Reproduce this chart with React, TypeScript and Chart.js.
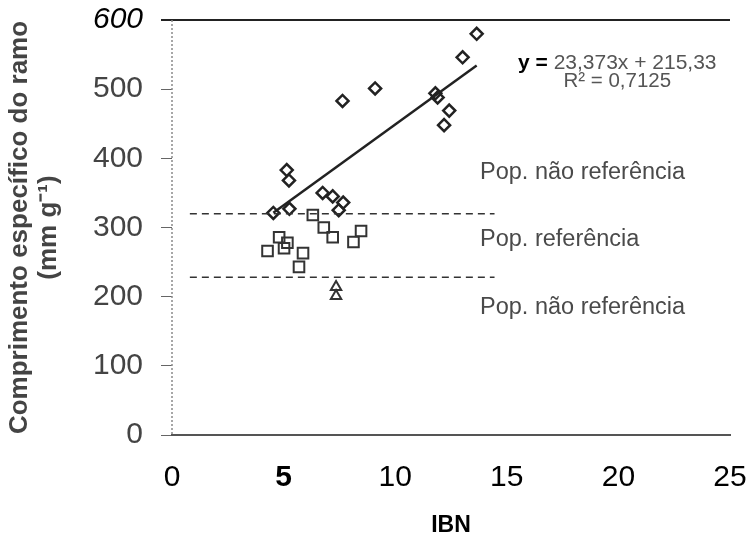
import React, { useEffect, useRef } from "react";
import { Chart, registerables } from "chart.js";

Chart.register(...registerables);

// ---- data ----
const diamondX = [4.54, 5.14, 5.24, 5.26, 6.75, 7.2, 7.67, 7.47, 7.64, 9.1, 11.8, 11.9, 12.42, 12.19, 13.02, 13.65];
const diamondY = [321, 383, 368, 327, 350, 345, 336, 325, 483, 501, 494, 488, 469, 448, 546, 580];

const squareX = [6.31, 6.8, 7.2, 8.47, 8.13, 4.8, 5.17, 5.02, 4.28, 5.87, 5.69];
const squareY = [318, 300, 286, 295, 279, 286, 278, 270, 266, 263, 243];

const triangleX = [7.35, 7.35];
const triangleY = [214, 201];

const fitSlope = 23.373;
const fitIntercept = 215.33;
const fitRangeX = [4.54, 13.65];

const refUpper = 320;
const refLower = 228;
const refRangeX = [0.8, 14.45];

const xTicks = [0, 5, 10, 15, 20, 25];
const yTicks = [0, 100, 200, 300, 400, 500, 600];

const popLabels = ["Pop. não referência", "Pop. referência", "Pop. não referência"];
const popLabelY = [380, 282, 185];
const popLabelX = 13.8;

const FONT = "'Liberation Sans', Arial, Helvetica, sans-serif";

const toPts = (xs: number[], ys: number[]) => xs.map((x, i) => ({ x, y: ys[i] }));

const axisLinePlugin = {
  id: "dottedYAxis",
  beforeDatasetsDraw(chart: any) {
    const { ctx, chartArea } = chart;
    ctx.save();
    ctx.strokeStyle = "#8a8a8a";
    ctx.lineWidth = 1.5;
    ctx.setLineDash([2, 2]);
    ctx.beginPath();
    ctx.moveTo(chartArea.left, chartArea.top);
    ctx.lineTo(chartArea.left, chartArea.bottom);
    ctx.stroke();
    ctx.restore();
  },
};

const textPlugin = {
  id: "annotTexts",
  afterDatasetsDraw(chart: any) {
    const { ctx, scales } = chart;
    const xs = scales.x;
    const ys = scales.y;
    ctx.save();
    // population labels
    ctx.font = `23.5px ${FONT}`;
    ctx.fillStyle = "#4a4a4a";
    ctx.textAlign = "left";
    ctx.textBaseline = "middle";
    popLabels.forEach((t, i) => {
      ctx.fillText(t, xs.getPixelForValue(popLabelX), ys.getPixelForValue(popLabelY[i]));
    });
    // equation
    const cx = xs.getPixelForValue(19.95);
    const ey = ys.getPixelForValue(537);
    const part1 = "y = ";
    const part2 = "23,373x + 215,33";
    ctx.font = `bold 21px ${FONT}`;
    const w1 = ctx.measureText(part1).width;
    ctx.font = `21px ${FONT}`;
    const w2 = ctx.measureText(part2).width;
    const start = cx - (w1 + w2) / 2;
    ctx.font = `bold 21px ${FONT}`;
    ctx.fillStyle = "#000";
    ctx.fillText(part1, start, ey);
    ctx.font = `21px ${FONT}`;
    ctx.fillStyle = "#555";
    ctx.fillText(part2, start + w1, ey);
    ctx.textAlign = "center";
    ctx.font = `20.5px ${FONT}`;
    ctx.fillText("R² = 0,7125", cx, ys.getPixelForValue(511));
    ctx.restore();
  },
};

export default function App() {
  const ref = useRef<HTMLCanvasElement | null>(null);

  useEffect(() => {
    document.body.style.margin = "0";
    if (!ref.current) return;
    const fitPts = fitRangeX.map((x) => ({ x, y: fitSlope * x + fitIntercept }));
    const chart = new Chart(ref.current, {
      type: "scatter",
      data: {
        datasets: [
          {
            type: "line",
            data: fitPts,
            borderColor: "#222",
            borderWidth: 2.5,
            pointRadius: 0,
            fill: false,
          } as any,
          {
            type: "line",
            data: refRangeX.map((x) => ({ x, y: refUpper })),
            borderColor: "#333",
            borderWidth: 1.5,
            borderDash: [7, 5],
            pointRadius: 0,
            fill: false,
          } as any,
          {
            type: "line",
            data: refRangeX.map((x) => ({ x, y: refLower })),
            borderColor: "#333",
            borderWidth: 1.5,
            borderDash: [7, 5],
            pointRadius: 0,
            fill: false,
          } as any,
          {
            data: toPts(diamondX, diamondY),
            pointStyle: "rectRot",
            pointRadius: 6,
            borderColor: "#222",
            borderWidth: 2.5,
            backgroundColor: "rgba(0,0,0,0)",
          },
          {
            data: toPts(squareX, squareY),
            pointStyle: "rect",
            pointRadius: 7.5,
            borderColor: "#333",
            borderWidth: 2,
            backgroundColor: "rgba(0,0,0,0)",
          },
          {
            data: toPts(triangleX, triangleY),
            pointStyle: "triangle",
            pointRadius: 6,
            borderColor: "#333",
            borderWidth: 2,
            backgroundColor: "rgba(0,0,0,0)",
          },
        ],
      },
      options: {
        responsive: false,
        animation: false,
        events: [],
        layout: { padding: { left: 6, top: 20, right: 20, bottom: 0 } },
        plugins: { legend: { display: false }, tooltip: { enabled: false } },
        scales: {
          x: {
            type: "linear",
            min: 0,
            max: 25,
            afterBuildTicks: (s: any) => {
              s.ticks = xTicks.map((v) => ({ value: v }));
            },
            afterFit: (s: any) => {
              s.height = 106;
              s.paddingLeft = 0;
              s.paddingRight = 0;
            },
            grid: { display: true, drawOnChartArea: false, drawTicks: false, color: "rgba(0,0,0,0)" },
            border: { display: true, color: "#555", width: 2 },
            ticks: {
              padding: 25,
              color: "#000",
              font: (c: any) => ({
                family: FONT,
                size: 30,
                weight: c.tick && c.tick.value === 5 ? "bold" : "normal",
              }),
            },
            title: {
              display: true,
              text: "IBN",
              color: "#000",
              font: { family: FONT, size: 23, weight: "bold" },
              padding: { top: 0, bottom: 2 },
            },
          },
          y: {
            type: "linear",
            min: 0,
            max: 600,
            afterBuildTicks: (s: any) => {
              s.ticks = yTicks.map((v) => ({ value: v }));
            },
            afterFit: (s: any) => {
              s.width = 166;
              s.paddingTop = 0;
              s.paddingBottom = 0;
            },
            grid: {
              drawOnChartArea: true,
              drawTicks: true,
              tickLength: 11,
              color: (c: any) => (c.tick && c.tick.value === 600 ? "#222" : "rgba(0,0,0,0)"),
              lineWidth: (c: any) => (c.tick && c.tick.value === 600 ? 2 : 1),
              tickColor: (c: any) => (c.tick && c.tick.value === 600 ? "#222" : "#666"),
            },
            border: { display: false },
            ticks: {
              padding: 18,
              color: (c: any) => (c.tick && c.tick.value === 600 ? "#000" : "#444"),
              font: (c: any) => ({
                family: FONT,
                size: 30,
                style: c.tick && c.tick.value === 600 ? "italic" : "normal",
              }),
            },
            title: {
              display: true,
              text: ["Comprimento específico do ramo", "(mm g⁻¹)"],
              color: "#444",
              font: { family: FONT, size: 26, weight: "bold", lineHeight: 1.1 },
              padding: 0,
            },
          },
        },
      },
      plugins: [axisLinePlugin, textPlugin],
    });
    return () => chart.destroy();
  }, []);

  return (
    <div style={{ width: 750, height: 541, background: "#fff" }}>
      <canvas ref={ref} width={750} height={541} style={{ display: "block" }} />
    </div>
  );
}
